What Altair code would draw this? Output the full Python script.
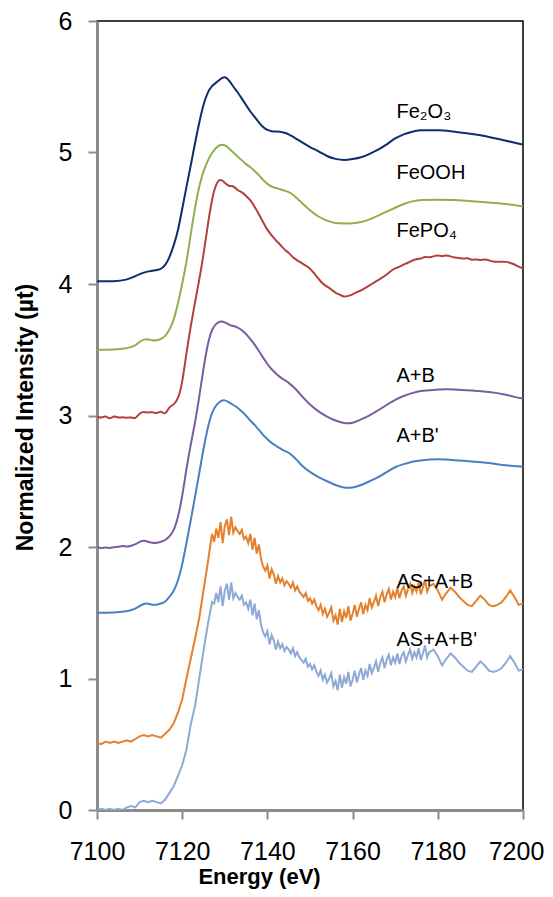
import altair as alt
import pandas as pd

# ---------------- data ----------------
fe2o3_E = [7100, 7104, 7107, 7109, 7111, 7113, 7115, 7116, 7117, 7118, 7119, 7120, 7121, 7122,
           7123, 7124, 7125, 7126, 7127, 7128, 7129, 7130, 7131, 7132, 7133, 7134, 7135, 7136,
           7137, 7138, 7139, 7140, 7141, 7142, 7143, 7144, 7145, 7146, 7147, 7148, 7150, 7152,
           7154, 7156, 7158, 7160, 7162, 7164, 7166, 7168, 7170, 7172, 7174, 7176, 7178, 7180,
           7184, 7188, 7192, 7196, 7200]
fe2o3_v = [4.02, 4.02, 4.03, 4.06, 4.09, 4.10, 4.11, 4.14, 4.20, 4.29, 4.40, 4.57, 4.74, 4.90,
           5.07, 5.23, 5.37, 5.46, 5.51, 5.53, 5.56, 5.58, 5.55, 5.50, 5.46, 5.41, 5.36, 5.31,
           5.27, 5.23, 5.19, 5.17, 5.16, 5.16, 5.16, 5.15, 5.14, 5.12, 5.10, 5.08, 5.04, 5.01,
           4.97, 4.95, 4.94, 4.95, 4.96, 4.99, 5.02, 5.06, 5.11, 5.14, 5.16, 5.17, 5.17, 5.17,
           5.16, 5.14, 5.12, 5.09, 5.06]

feooh_E = [7100, 7104, 7107, 7109, 7110, 7111, 7112, 7113, 7114, 7115, 7116, 7117, 7118, 7119,
           7120, 7121, 7122, 7123, 7124, 7125, 7126, 7127, 7128, 7129, 7130, 7131, 7132, 7133,
           7134, 7135, 7136, 7137, 7138, 7139, 7140, 7141, 7142, 7143, 7144, 7145, 7146, 7147,
           7148, 7150, 7152, 7154, 7156, 7158, 7160, 7162, 7164, 7166, 7168, 7170, 7172, 7174,
           7176, 7180, 7184, 7188, 7192, 7196, 7200]
feooh_v = [3.50, 3.50, 3.51, 3.53, 3.56, 3.58, 3.58, 3.57, 3.57, 3.58, 3.60, 3.65, 3.72, 3.85,
           4.00, 4.16, 4.38, 4.58, 4.75, 4.86, 4.94, 5.00, 5.04, 5.06, 5.06, 5.03, 5.00, 4.97,
           4.94, 4.91, 4.89, 4.86, 4.83, 4.79, 4.76, 4.74, 4.73, 4.72, 4.71, 4.70, 4.68, 4.65,
           4.62, 4.56, 4.51, 4.48, 4.46, 4.46, 4.46, 4.47, 4.49, 4.52, 4.55, 4.58, 4.61, 4.63,
           4.64, 4.64, 4.64, 4.63, 4.62, 4.61, 4.59]

fepo4_E = list(range(7100, 7201))
fepo4_v = [2.99, 2.98, 3.00, 2.97, 3.00, 2.98, 2.99, 2.98, 2.99, 2.97,
           3.02, 3.03, 3.02, 3.03, 3.01, 3.04, 3.00, 3.07, 3.08, 3.12,
           3.24, 3.48, 3.68, 3.86, 4.03, 4.22, 4.45, 4.65, 4.77, 4.80,
           4.77, 4.74, 4.75, 4.71, 4.70, 4.67, 4.64, 4.59, 4.53, 4.47,
           4.41, 4.37, 4.33, 4.30, 4.26, 4.24, 4.20, 4.18, 4.16, 4.14,
           4.12, 4.08, 4.04, 4.00, 3.98, 3.96, 3.93, 3.92, 3.90, 3.91,
           3.92, 3.94, 3.95, 3.97, 3.99, 4.01, 4.03, 4.05, 4.07, 4.10,
           4.12, 4.13, 4.15, 4.16, 4.18, 4.19, 4.19, 4.21, 4.20, 4.21,
           4.22, 4.21, 4.22, 4.21, 4.20, 4.20, 4.19, 4.20, 4.18, 4.19,
           4.18, 4.19, 4.18, 4.17, 4.17, 4.17, 4.17, 4.16, 4.15, 4.13,
           4.12]

ab_E = [7100, 7101, 7102, 7103, 7104, 7105, 7106, 7107, 7108, 7109, 7110, 7111, 7112, 7113,
        7114, 7115, 7116, 7117, 7118, 7119, 7120, 7121, 7122, 7123, 7124, 7125, 7126, 7127,
        7128, 7129, 7130, 7131, 7132, 7133, 7134, 7135, 7136, 7137, 7138, 7139, 7140, 7141,
        7142, 7143, 7144, 7145, 7146, 7147, 7148, 7150, 7152, 7154, 7156, 7158, 7160, 7162,
        7164, 7166, 7168, 7170, 7172, 7174, 7176, 7178, 7180, 7184, 7188, 7192, 7196, 7198, 7200]
ab_v = [2.00, 1.99, 2.00, 1.99, 2.00, 2.00, 2.01, 2.00, 2.01, 2.02, 2.04, 2.05, 2.04, 2.03,
        2.03, 2.04, 2.05, 2.08, 2.12, 2.22, 2.38, 2.60, 2.78, 2.94, 3.14, 3.36, 3.55, 3.66,
        3.70, 3.72, 3.71, 3.69, 3.68, 3.67, 3.65, 3.62, 3.58, 3.54, 3.49, 3.44, 3.39, 3.35,
        3.32, 3.29, 3.27, 3.25, 3.22, 3.19, 3.15, 3.08, 3.03, 2.99, 2.96, 2.94, 2.94, 2.97,
        3.00, 3.04, 3.08, 3.12, 3.15, 3.17, 3.19, 3.19, 3.20, 3.20, 3.19, 3.18, 3.16, 3.14, 3.13]

abp_E = [7100, 7104, 7107, 7109, 7110, 7111, 7112, 7113, 7114, 7115, 7116, 7117, 7118, 7119,
         7120, 7121, 7122, 7123, 7124, 7125, 7126, 7127, 7128, 7129, 7130, 7131, 7132, 7133,
         7134, 7135, 7136, 7137, 7138, 7139, 7140, 7141, 7142, 7143, 7144, 7145, 7146, 7147,
         7148, 7150, 7152, 7154, 7156, 7158, 7160, 7162, 7164, 7166, 7168, 7170, 7172, 7174,
         7176, 7180, 7184, 7188, 7192, 7196, 7200]
abp_v = [1.50, 1.50, 1.51, 1.53, 1.55, 1.57, 1.57, 1.56, 1.56, 1.57, 1.58, 1.62, 1.66, 1.74,
         1.86, 2.03, 2.20, 2.38, 2.56, 2.75, 2.91, 3.03, 3.08, 3.11, 3.12, 3.10, 3.08, 3.06,
         3.03, 3.00, 2.96, 2.93, 2.89, 2.85, 2.82, 2.79, 2.77, 2.75, 2.73, 2.72, 2.69, 2.66,
         2.62, 2.57, 2.53, 2.50, 2.47, 2.45, 2.45, 2.47, 2.50, 2.53, 2.57, 2.61, 2.63, 2.65,
         2.66, 2.67, 2.66, 2.65, 2.64, 2.62, 2.61]

# noisy spectra: 1 eV steps up to 7127, 0.5 eV steps 7127.5-7178, 1 eV steps 7179-7200
noisy_E = list(range(7100, 7128)) + [7127.5 + 0.5 * i for i in range(102)] + list(range(7179, 7201))

asab_v = [0.51, 0.50, 0.52, 0.51, 0.52, 0.51, 0.52, 0.53, 0.52, 0.54,
          0.56, 0.57, 0.56, 0.57, 0.56, 0.55, 0.58, 0.61, 0.66, 0.74,
          0.84, 1.00, 1.15, 1.30, 1.46, 1.67, 1.88, 2.10,
          2.04, 2.14, 2.07, 2.19, 2.03, 2.16, 2.21, 2.09, 2.23, 2.11,
          2.15, 2.12, 2.10, 2.13, 2.06, 2.08, 2.03, 2.10, 1.98, 2.07,
          1.95, 2.02, 1.91, 1.85, 1.82, 1.86, 1.76, 1.83, 1.79, 1.72,
          1.78, 1.73, 1.76, 1.71, 1.74, 1.72, 1.69, 1.73, 1.67, 1.70,
          1.66, 1.64, 1.62, 1.65, 1.59, 1.61, 1.57, 1.60, 1.55, 1.52,
          1.56, 1.49, 1.53, 1.47, 1.50, 1.54, 1.44, 1.48, 1.41, 1.53,
          1.43, 1.51, 1.46, 1.55, 1.44, 1.49, 1.56, 1.47, 1.53, 1.58,
          1.49, 1.56, 1.52, 1.61, 1.54, 1.58, 1.63, 1.55, 1.62, 1.66,
          1.58, 1.64, 1.68, 1.60, 1.66, 1.62, 1.69, 1.61, 1.67, 1.70,
          1.63, 1.68, 1.72, 1.65, 1.70, 1.66, 1.73, 1.64, 1.69, 1.75,
          1.66, 1.70,
          1.72, 1.67, 1.60, 1.65, 1.69, 1.66, 1.62, 1.59, 1.56, 1.55, 1.59,
          1.63, 1.60, 1.56, 1.55, 1.56, 1.58, 1.62, 1.67, 1.62, 1.56, 1.57]

asabp_v = [0.00, 0.01, 0.00, 0.01, 0.00, 0.01, 0.00, 0.02, 0.03, 0.02,
           0.06, 0.07, 0.06, 0.07, 0.06, 0.05, 0.08, 0.13, 0.18, 0.26,
           0.34, 0.46, 0.65, 0.79, 1.00, 1.21, 1.41, 1.58,
           1.57, 1.65, 1.58, 1.70, 1.55, 1.67, 1.72, 1.60, 1.73, 1.61,
           1.65, 1.62, 1.60, 1.63, 1.56, 1.58, 1.53, 1.60, 1.48, 1.57,
           1.45, 1.52, 1.41, 1.35, 1.32, 1.36, 1.26, 1.33, 1.29, 1.22,
           1.28, 1.23, 1.26, 1.21, 1.24, 1.22, 1.19, 1.23, 1.17, 1.20,
           1.16, 1.14, 1.12, 1.15, 1.09, 1.11, 1.07, 1.10, 1.05, 1.02,
           1.06, 0.99, 1.03, 0.97, 1.00, 1.04, 0.94, 0.98, 0.91, 1.03,
           0.93, 1.01, 0.96, 1.05, 0.94, 0.99, 1.06, 0.97, 1.03, 1.08,
           0.99, 1.06, 1.02, 1.11, 1.04, 1.08, 1.13, 1.05, 1.12, 1.16,
           1.08, 1.14, 1.18, 1.10, 1.16, 1.12, 1.19, 1.11, 1.17, 1.20,
           1.13, 1.18, 1.22, 1.15, 1.20, 1.16, 1.23, 1.14, 1.19, 1.25,
           1.16, 1.20,
           1.22, 1.17, 1.10, 1.15, 1.19, 1.16, 1.12, 1.09, 1.06, 1.05, 1.09,
           1.13, 1.10, 1.06, 1.05, 1.06, 1.08, 1.12, 1.17, 1.12, 1.06, 1.07]

series_names = ["Fe2O3", "FeOOH", "FePO4", "A+B", "A+B'", "AS+A+B", "AS+A+B'"]
series_colors = ["#0f2c6b", "#8fb04c", "#b3403c", "#7b5c9e", "#4a7fc0", "#e5812e", "#8fa9d6"]
smooth_series = ["Fe2O3", "FeOOH", "FePO4", "A+B", "A+B'"]
noisy_series = ["AS+A+B", "AS+A+B'"]

label_text = ["Fe₂O₃", "FeOOH", "FePO₄", "A+B", "A+B'", "AS+A+B", "AS+A+B'"]
label_E = [7170.3] * 7
label_v = [5.26, 4.80, 4.36, 3.255, 2.80, 1.69, 1.245]

x_ticks = [7100, 7120, 7140, 7160, 7180, 7200]
y_ticks = [0, 1, 2, 3, 4, 5, 6]

# ---------------- build table ----------------
pairs = [(fe2o3_E, fe2o3_v), (feooh_E, feooh_v), (fepo4_E, fepo4_v), (ab_E, ab_v),
         (abp_E, abp_v), (noisy_E, asab_v), (noisy_E, asabp_v)]
rows = []
for name, (es, vs) in zip(series_names, pairs):
    assert len(es) == len(vs), (name, len(es), len(vs))
    for e, v in zip(es, vs):
        rows.append({"E": e, "v": v, "series": name})
df = pd.DataFrame(rows)
labels = pd.DataFrame({"E": label_E, "v": label_v, "text": label_text})

FONT = "Liberation Sans"
xscale = alt.Scale(domain=[7100, 7200], nice=False, zero=False)
yscale = alt.Scale(domain=[0, 6], nice=False)
color = alt.Color("series:N", scale=alt.Scale(domain=series_names, range=series_colors), legend=None)

x_enc = alt.X("E:Q", scale=xscale, axis=alt.Axis(
    values=x_ticks, format="d", title="Energy (eV)", grid=False, labelFlush=False,
    labelFont=FONT, labelFontSize=25, labelColor="black", labelPadding=20,
    labelOffset=alt.ExprRef(expr="datum.value == 7200 ? -7 : 0"),
    tickSize=9, tickColor="#8c8c8c", tickWidth=2,
    domainColor="#8c8c8c", domainWidth=3,
    titleFont=FONT, titleFontSize=22, titleFontWeight="bold", titleColor="black",
    titleX=162, titleY=56, titleAlign="center", titleBaseline="top"))
y_enc = alt.Y("v:Q", scale=yscale, axis=alt.Axis(
    values=y_ticks, format="d", title="Normalized Intensity (µt)", grid=False, labelFlush=False,
    labelFont=FONT, labelFontSize=25, labelColor="black", labelPadding=16,
    tickSize=9, tickColor="#8c8c8c", tickWidth=2,
    domainColor="#8c8c8c", domainWidth=3,
    titleFont=FONT, titleFontSize=23, titleFontWeight="bold", titleColor="black",
    titleX=-72, titleY=396, titleBaseline="middle", titleAlign="center"))

base = alt.Chart(df)
smooth = base.transform_filter(
    alt.FieldOneOfPredicate(field="series", oneOf=smooth_series)
).mark_line(strokeWidth=2, clip=True, interpolate="basis").encode(
    x=x_enc, y=y_enc, color=color, detail="series:N")
noisy = base.transform_filter(
    alt.FieldOneOfPredicate(field="series", oneOf=noisy_series)
).mark_line(strokeWidth=2, clip=True, interpolate="linear").encode(
    x=alt.X("E:Q", scale=xscale), y=alt.Y("v:Q", scale=yscale), color=color, detail="series:N")

texts = alt.Chart(labels).mark_text(
    align="left", baseline="alphabetic", font=FONT, fontSize=20, color="black"
).encode(x=alt.X("E:Q", scale=xscale), y=alt.Y("v:Q", scale=yscale), text="text:N")

chart = alt.layer(smooth, noisy, texts).properties(
    width=426, height=789,
    autosize=alt.AutoSizeParams(type="none"),
    padding={"left": 89, "top": 13, "right": 22, "bottom": 80},
).configure_view(stroke="black", strokeWidth=1.5)

chart.save("out.html", embed_options={"renderer": "svg", "actions": False})
